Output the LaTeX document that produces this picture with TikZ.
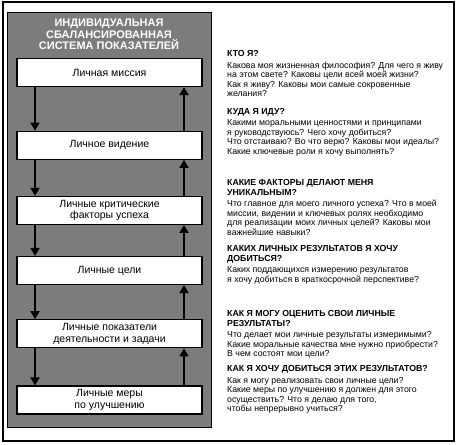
\documentclass[tikz,border=0pt]{standalone}
\usepackage{fontspec}
\setmainfont{Liberation Sans}
\usetikzlibrary{positioning,arrows.meta}
\definecolor{panelgray}{RGB}{124,124,124}

\begin{document}
\begin{tikzpicture}[x=1pt,y=1pt,
    stepbox/.style={draw=black, fill=white, line width=1.2pt,
                    minimum width=185pt, minimum height=28pt, inner sep=0pt,
                    align=center, font=\fontsize{10.5}{11.7}\selectfont},
    arr/.style={-{Triangle[width=9pt,length=8pt]}, line width=1.8pt},
    qtext/.style={anchor=north west, inner sep=0pt, align=left,
                  font=\fontsize{8.75}{9.6}\selectfont}
  ]
  \useasboundingbox (0,0) rectangle (457,444);
  % frame and panel
  \draw[line width=2pt] (3,3) rectangle (453.5,441.5);
  \draw[fill=panelgray, line width=1pt] (7.3,17) rectangle (211,431);
  \node[white, align=center, font=\bfseries\fontsize{11}{11.7}\selectfont]
        (title) at (109,409.7)
        {ИНДИВИДУАЛЬНАЯ\\СБАЛАНСИРОВАННАЯ\\СИСТЕМА ПОКАЗАТЕЛЕЙ};

  \node[stepbox] (mission) at (109.5,371.5) {Личная миссия};
  \node[stepbox] (vision) at (109.5,298.8) {Личное видение};
  \node[stepbox] (factors) at (109.5,233.6)
        {Личные критические\\факторы успеха};
  \node[stepbox] (goals) at (109.5,173.5) {Личные цели};
  \node[stepbox] (indicators) at (109.5,110.2)
        {Личные показатели\\деятельности и задачи};
  \node[stepbox] (improve) at (109.5,44) {Личные меры\\по улучшению};

  \foreach \a/\b in {mission/vision, vision/factors, factors/goals,
                     goals/indicators, indicators/improve}{
    \draw[arr] ([xshift=-74.5pt]\a.south) -- ([xshift=-74.5pt]\b.north);
    \draw[arr] ([xshift=74.5pt]\b.north) -- ([xshift=74.5pt]\a.south);
  }

  % questions
  \node[qtext] (q1) at (227,393.7)
        {\textbf{КТО Я?}\\[1.8pt]
         Какова моя жизненная философия? Для чего я живу\\
         на этом свете? Каковы цели всей моей жизни?\\
         Как я живу? Каковы мои самые сокровенные\\
         желания?};
  \node[qtext] (q2) at (227,336)
        {\textbf{КУДА Я ИДУ?}\\[1.8pt]
         Какими моральными ценностями и принципами\\
         я руководствуюсь? Чего хочу добиться?\\
         Что отстаиваю? Во что верю? Каковы мои идеалы?\\
         Какие ключевые роли я хочу выполнять?};
  \node[qtext] (q3) at (227,264.7)
        {\textbf{КАКИЕ ФАКТОРЫ ДЕЛАЮТ МЕНЯ}\\
         \textbf{УНИКАЛЬНЫМ?}\\[1.8pt]
         Что главное для моего личного успеха? Что в моей\\
         миссии, видении и ключевых ролях необходимо\\
         для реализации моих личных целей? Каковы мои\\
         важнейшие навыки?};
  \node[qtext] (q4) at (227,198.7)
        {\textbf{КАКИХ ЛИЧНЫХ РЕЗУЛЬТАТОВ Я ХОЧУ}\\
         \textbf{ДОБИТЬСЯ?}\\[1.8pt]
         Каких поддающихся измерению результатов\\
         я хочу добиться в краткосрочной перспективе?};
  \node[qtext] (q5) at (227,133.7)
        {\textbf{КАК Я МОГУ ОЦЕНИТЬ СВОИ ЛИЧНЫЕ}\\
         \textbf{РЕЗУЛЬТАТЫ?}\\[1.8pt]
         Что делает мои личные результаты измеримыми?\\
         Какие моральные качества мне нужно приобрести?\\
         В чем состоят мои цели?};
  \node[qtext] (q6) at (227,78.7)
        {\textbf{КАК Я ХОЧУ ДОБИТЬСЯ ЭТИХ РЕЗУЛЬТАТОВ?}\\[1.8pt]
         Как я могу реализовать свои личные цели?\\
         Какие меры по улучшению я должен для этого\\
         осуществить? Что я делаю для того,\\
         чтобы непрерывно учиться?};
\end{tikzpicture}
\end{document}
